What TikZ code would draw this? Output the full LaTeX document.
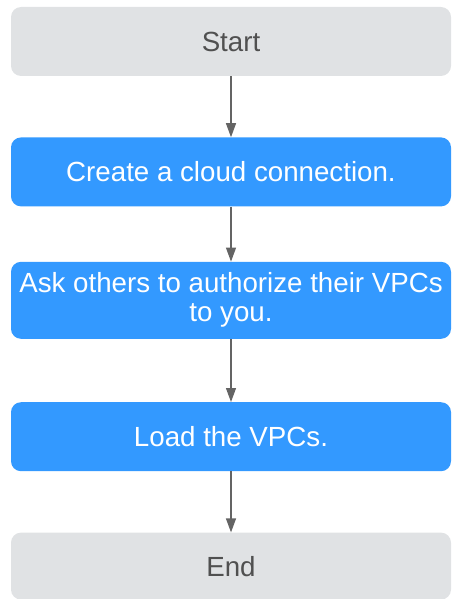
\documentclass[tikz,border=0pt]{standalone}
\usepackage{fontspec}
\setmainfont{Liberation Sans}
\usetikzlibrary{positioning}
\usetikzlibrary{arrows.meta}
\definecolor{stepBlue}{RGB}{51,153,255}
\definecolor{termGray}{RGB}{224,226,228}
\definecolor{termText}{RGB}{80,80,80}
\definecolor{arrowGray}{RGB}{100,100,100}
\begin{document}
\begin{tikzpicture}
[x=1pt,y=1pt,%
  termDecorate/.style={rounded corners=10pt,fill=termGray,text=termText,minimum width=440pt,minimum height=69pt,inner sep=0pt,align=center},%
  stepDecorate/.style={termDecorate,fill=stepBlue,text=white},%
  lineDecorate/.style={arrowGray,line width=1.2pt,-{Triangle[width=10pt,length=14pt]}},%
  font=\fontsize{27.7}{29}\selectfont]
\useasboundingbox (0,0) rectangle (452,-599);
%% nodes
\node[termDecorate] (start) at (231,-41.5) {Start};
\node[stepDecorate,below=61pt of start] (create) {Create a cloud connection.};
\node[stepDecorate,below=55pt of create,minimum height=77pt] (ask) {Ask others to authorize their VPCs\\to you.};
\node[stepDecorate,below=63pt of ask] (load) {Load the VPCs.};
\node[termDecorate,below=61pt of load,minimum height=67pt] (end) {End};
%% connect nodes
\foreach \from/\to in {start/create, create/ask, ask/load, load/end}
  \draw[lineDecorate] (\from) -- (\to);
\end{tikzpicture}
\end{document}
